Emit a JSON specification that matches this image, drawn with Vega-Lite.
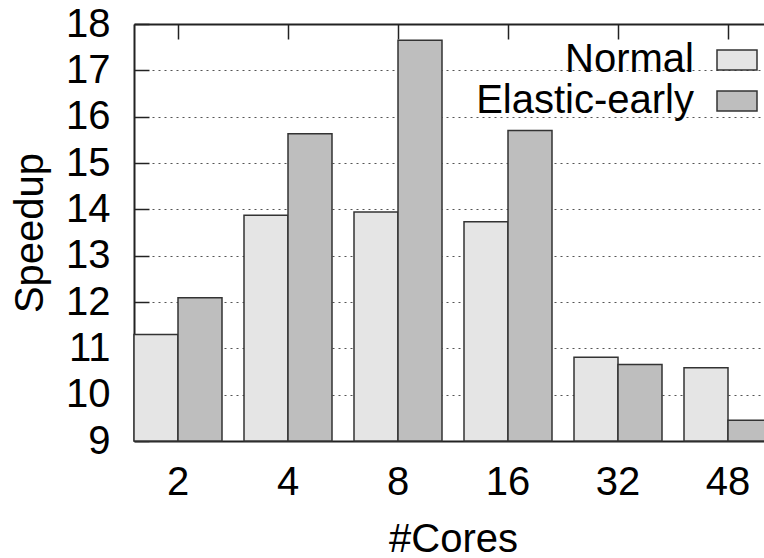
{
  "$schema": "https://vega.github.io/schema/vega-lite/v6.json",
  "width": 630,
  "height": 417,
  "autosize": {"type": "none"},
  "padding": {"left": 134, "top": 24, "right": 0, "bottom": 117},
  "background": "white",
  "config": {
    "view": {"stroke": null},
    "font": "Liberation Sans",
    "axis": {
      "labelFont": "Liberation Sans",
      "titleFont": "Liberation Sans",
      "labelFontSize": 40,
      "titleFontSize": 40,
      "labelColor": "#000",
      "titleColor": "#000",
      "titleFontWeight": "normal",
      "domainColor": "#222",
      "domainWidth": 2,
      "tickColor": "#222",
      "tickWidth": 1.5
    },
    "legend": {
      "labelFont": "Liberation Sans",
      "labelFontSize": 40,
      "labelColor": "#000",
      "labelLimit": 0
    }
  },
  "data": {
    "values": [
      {"cores": "2", "series": "Normal", "speedup": 11.3},
      {"cores": "2", "series": "Elastic-early", "speedup": 12.09},
      {"cores": "4", "series": "Normal", "speedup": 13.87},
      {"cores": "4", "series": "Elastic-early", "speedup": 15.63},
      {"cores": "8", "series": "Normal", "speedup": 13.94},
      {"cores": "8", "series": "Elastic-early", "speedup": 17.65},
      {"cores": "16", "series": "Normal", "speedup": 13.73},
      {"cores": "16", "series": "Elastic-early", "speedup": 15.7},
      {"cores": "32", "series": "Normal", "speedup": 10.81},
      {"cores": "32", "series": "Elastic-early", "speedup": 10.65},
      {"cores": "48", "series": "Normal", "speedup": 10.58},
      {"cores": "48", "series": "Elastic-early", "speedup": 9.45}
    ]
  },
  "layer": [
    {
      "mark": {"type": "bar", "stroke": "#333", "strokeWidth": 1.5, "clip": false},
      "encoding": {
        "x": {
          "field": "cores",
          "type": "ordinal",
          "sort": ["2", "4", "8", "16", "32", "48"],
          "scale": {"paddingInner": 0.2, "paddingOuter": 0, "range": [0, 638]},
          "axis": {
            "orient": "bottom",
            "title": "#Cores",
            "labelAngle": 0,
            "ticks": false,
            "labelPadding": 21,
            "titlePadding": 17,
            "grid": false
          }
        },
        "xOffset": {
          "field": "series",
          "type": "nominal",
          "sort": ["Normal", "Elastic-early"],
          "scale": {"paddingInner": 0, "paddingOuter": 0}
        },
        "y": {
          "field": "speedup",
          "type": "quantitative",
          "scale": {"domain": [9, 18], "nice": false, "zero": false},
          "axis": {
            "title": "Speedup",
            "values": [9, 10, 11, 12, 13, 14, 15, 16, 17, 18],
            "tickSize": -15,
            "labelPadding": 39,
            "titlePadding": 15,
            "grid": true,
            "gridDash": [2, 4],
            "gridColor": "#555",
            "gridWidth": 1
          }
        },
        "y2": {"datum": 9},
        "color": {
          "field": "series",
          "type": "nominal",
          "sort": ["Normal", "Elastic-early"],
          "scale": {"domain": ["Normal", "Elastic-early"], "range": ["#e5e5e5", "#bebebe"]},
          "legend": {
            "title": null,
            "orient": "none",
            "legendX": 582,
            "legendY": 15,
            "padding": 0,
            "rowPadding": 0,
            "symbolType": "M-1,-0.5H1V0.5H-1Z",
            "symbolSize": 1600,
            "symbolStrokeColor": "#333",
            "symbolStrokeWidth": 1.5,
            "symbolOpacity": 1,
            "labelAlign": "right",
            "labelOffset": -64,
            "labelLimit": 0
          }
        }
      }
    },
    {
      "mark": {"type": "point", "opacity": 0},
      "encoding": {
        "x": {
          "field": "cores",
          "type": "ordinal",
          "sort": ["2", "4", "8", "16", "32", "48"],
          "axis": {
            "orient": "top",
            "title": null,
            "labels": false,
            "tickSize": -15,
            "grid": false
          }
        }
      }
    }
  ],
  "resolve": {"axis": {"x": "independent"}}
}
